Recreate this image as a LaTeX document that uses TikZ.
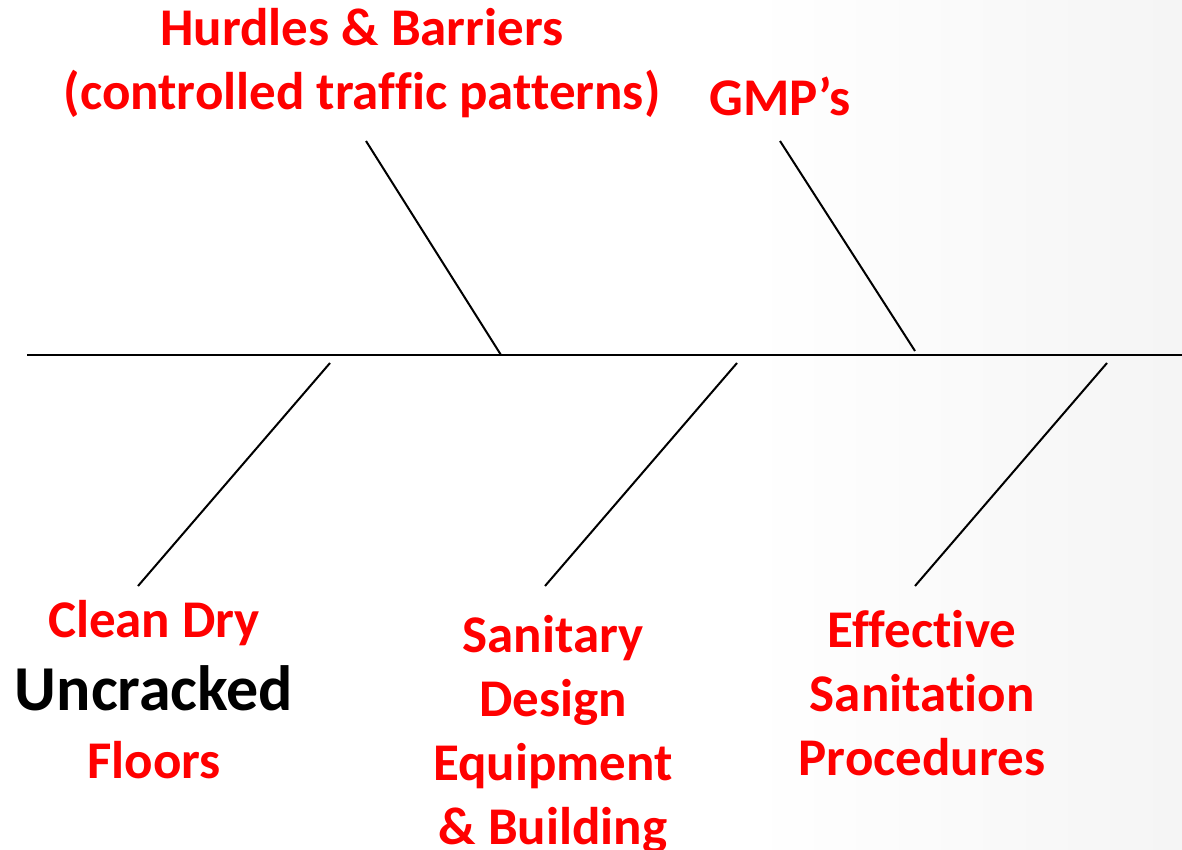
\documentclass[tikz,border=0pt]{standalone}
\usepackage{fontspec}
\setmainfont{Carlito}[Ligatures=NoCommon]
\definecolor{causered}{RGB}{255,0,0}
\begin{document}
\begin{tikzpicture}[x=1pt,y=-1pt,
  bone/.style={line width=2pt, black},
  lbl/.style={anchor=base, inner sep=0pt, text=causered,
    font=\fontsize{53}{64}\selectfont\bfseries},
  biglbl/.style={anchor=base, inner sep=0pt, text=black,
    font=\fontsize{64}{72}\selectfont\bfseries}]
  % page and soft grey wash on the right
  \fill[white] (0,0) rectangle (1182,850);
  \shade[left color=white, right color=black!4] (750,0) rectangle (1182,850);
  \useasboundingbox (0,0) rectangle (1182,850);

  % spine
  \coordinate (spineL) at (27,355);
  \coordinate (spineR) at (1182,355);
  \draw[bone] (spineL) -- (spineR);

  % upper bones
  \coordinate (u1a) at (366,141); \coordinate (u1b) at (501,355);
  \coordinate (u2a) at (780,141); \coordinate (u2b) at (915,351);
  \draw[bone] (u1a) -- (u1b);
  \draw[bone] (u2a) -- (u2b);

  % lower bones
  \coordinate (d1a) at (330,363); \coordinate (d1b) at (138,586);
  \coordinate (d2a) at (737,363); \coordinate (d2b) at (545,586);
  \coordinate (d3a) at (1107,363); \coordinate (d3b) at (915,586);
  \draw[bone] (d1a) -- (d1b);
  \draw[bone] (d2a) -- (d2b);
  \draw[bone] (d3a) -- (d3b);

  % labels above the spine
  \node[lbl] (hurdles1) at (362,46) {Hurdles \& Barriers};
  \node[lbl] (hurdles2) at (362,110) {(controlled traffic patterns)};
  \node[lbl] (gmp) at (780,116) {GMP’s};

  % labels below the spine
  \node[lbl] (floor1) at (154,637) {Clean Dry};
  \node[biglbl] (floor2) at (154,710) {Uncracked};
  \node[lbl] (floor3) at (154,778) {Floors};

  \node[lbl] (san1) at (553,652) {Sanitary};
  \node[lbl] (san2) at (553,716) {Design};
  \node[lbl] (san3) at (553,780) {Equipment};
  \node[lbl] (san4) at (553,844) {\& Building};

  \node[lbl] (eff1) at (922,647) {Effective};
  \node[lbl] (eff2) at (922,711) {Sanitation};
  \node[lbl] (eff3) at (922,775) {Procedures};
\end{tikzpicture}
\end{document}
